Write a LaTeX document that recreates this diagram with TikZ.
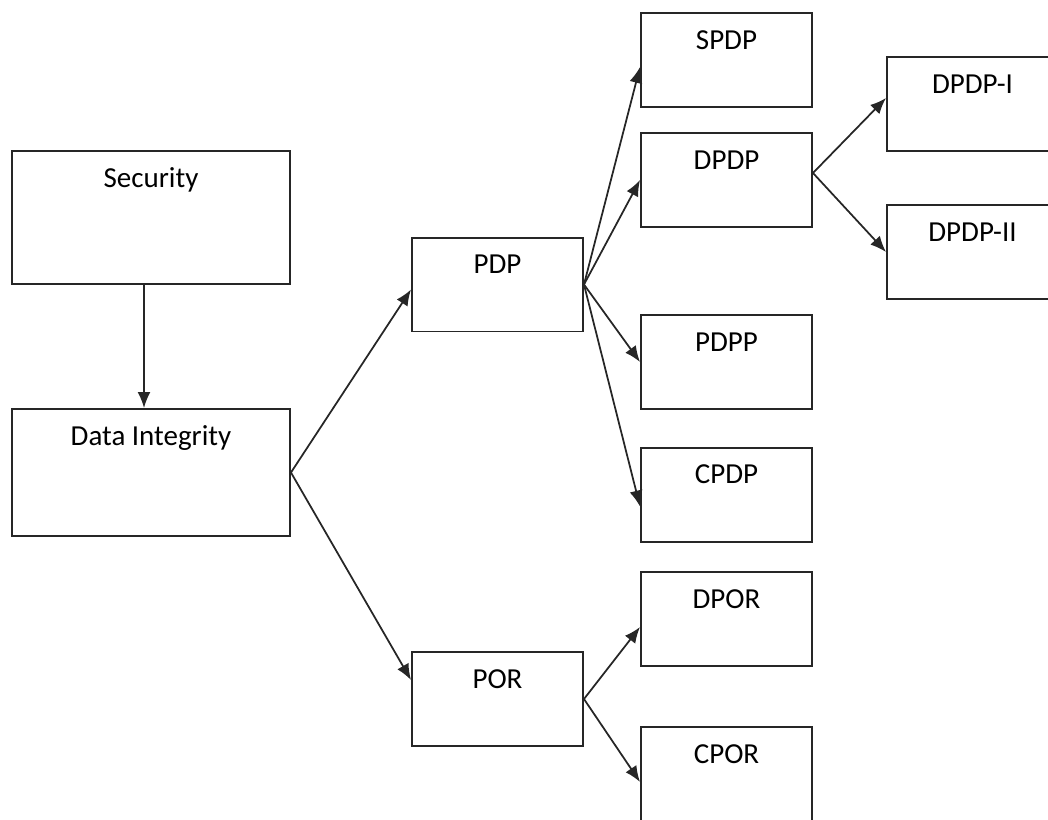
\documentclass[tikz,border=0pt]{standalone}
\usepackage{fontspec}
\setmainfont{Carlito}
\usepackage{tikz}
\usetikzlibrary{positioning}
\usetikzlibrary{arrows.meta}

\tikzset{
    bigbox/.style={draw=black!85, line width=0.04cm, inner sep=0pt,
        minimum width=5.56cm, text height=0.72cm},
    smallbox/.style={draw=black!85, line width=0.04cm, inner sep=0pt,
        minimum width=3.42cm, text height=0.72cm, text depth=1.16cm},
    link/.style={draw=black!85, line width=0.035cm,
        -{Latex[length=0.32cm,width=0.26cm]}}
}

\begin{document}
\begin{tikzpicture}[x=0.02cm, y=-0.02cm, font=\fontsize{16.5}{20}\selectfont]
\useasboundingbox (0,0) rectangle (1048,819);

% Security
\node[bigbox, text depth=1.94cm] (security) at (151,217.5) {Security};

% Data Integrity
\node[bigbox, text depth=1.82cm] (integrity) at (151,472.5) {Data Integrity};

% PDP and POR
\node[smallbox] (pdp) at (497.5,284.5) {PDP};
\node[smallbox] (por) at (497.5,699) {POR};

% PDP schemes
\node[smallbox] (spdp) at (726.5,60) {SPDP};
\node[smallbox] (dpdp) at (726.5,180) {DPDP};
\node[smallbox] (pdpp) at (726.5,362) {PDPP};
\node[smallbox] (cpdp) at (726.5,494.5) {CPDP};

% POR schemes
\node[smallbox] (dpor) at (726.5,619) {DPOR};
\node[smallbox] (cpor) at (726.5,774) {CPOR};

% DPDP variants
\node[smallbox] (dpdpi) at (972.5,104) {DPDP-I};
\node[smallbox] (dpdpii) at (972.5,252) {DPDP-II};

% Arrows
\draw[link] ([xshift=-0.14cm]security.south) -- ([xshift=-0.14cm]integrity.north);
\draw[link] (integrity.east) -- ([yshift=-0.1cm]pdp.west);
\draw[link] (integrity.east) -- ([yshift=0.38cm]por.west);

\draw[link] (pdp.east) -- ([yshift=-0.14cm]spdp.west);
\draw[link] (pdp.east) -- (dpdp.west);
\draw[link] (pdp.east) -- (pdpp.west);
\draw[link] (pdp.east) -- ([yshift=-0.24cm]cpdp.west);

\draw[link] (por.east) -- ([yshift=-0.16cm]dpor.west);
\draw[link] (por.east) -- ([yshift=-0.16cm]cpor.west);

\draw[link] ([yshift=0.14cm]dpdp.east) -- ([yshift=0.12cm]dpdpi.west);
\draw[link] ([yshift=0.14cm]dpdp.east) -- (dpdpii.west);

\end{tikzpicture}
\end{document}
